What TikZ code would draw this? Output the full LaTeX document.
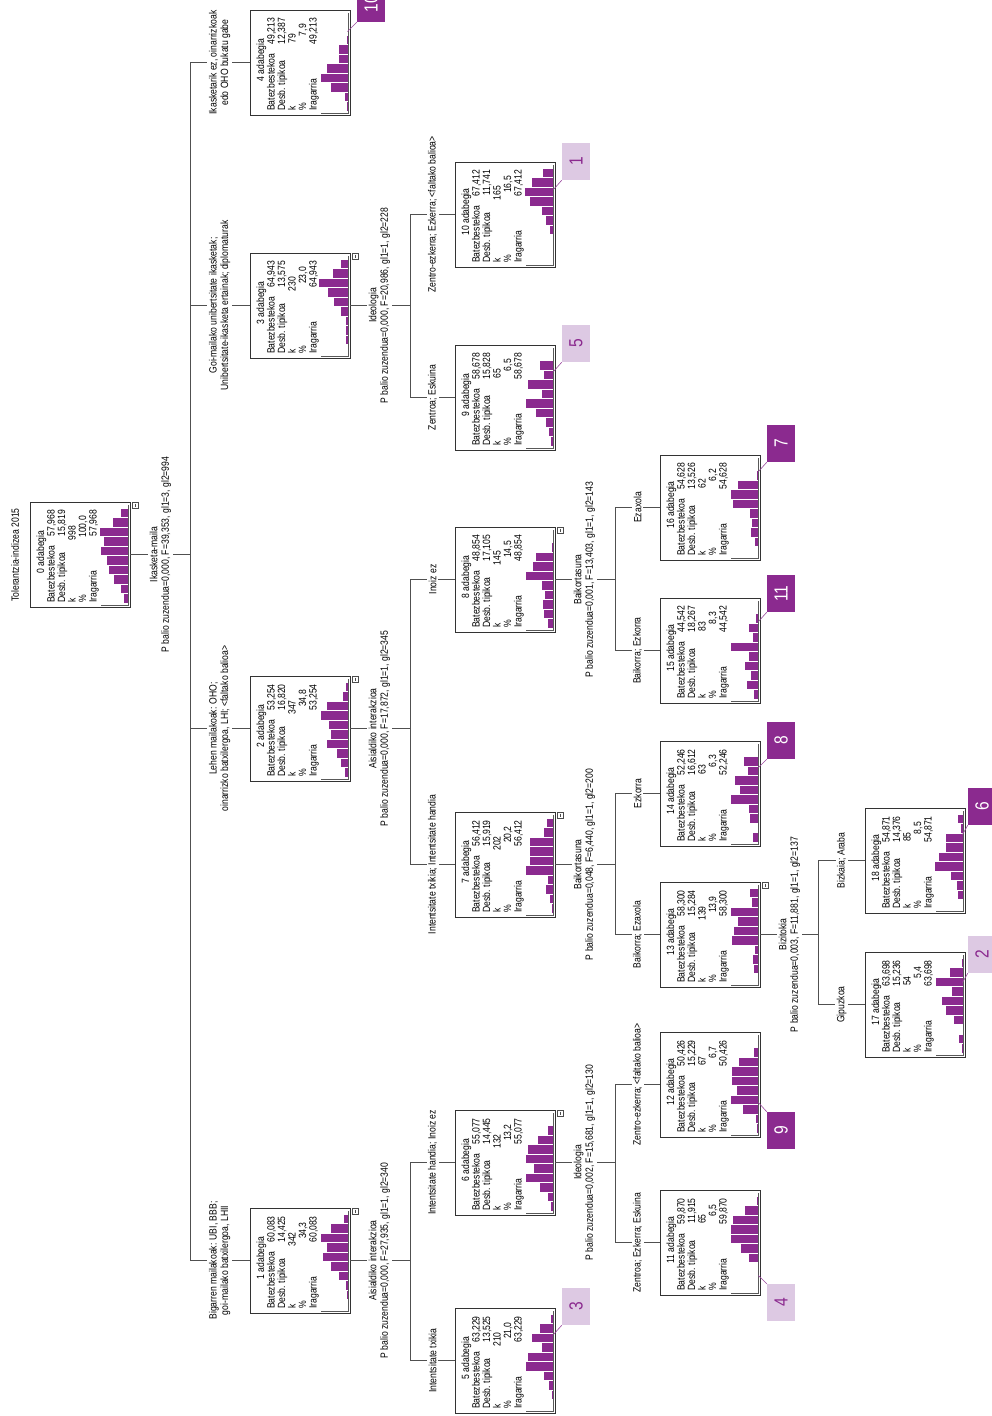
\documentclass[tikz,border=0pt]{standalone}
\usepackage{fontspec}
\setmainfont{Liberation Sans}
\newfontfamily\cf[FakeStretch=0.82]{Liberation Sans}
\usetikzlibrary{calc}
\definecolor{pur}{RGB}{139,42,143}
\definecolor{lav}{RGB}{221,201,227}
\definecolor{ln}{RGB}{80,80,80}
\tikzset{
  box/.style={draw=black!80, line width=0.9pt, minimum width=100pt, minimum height=105pt, inner sep=0pt},
  txt/.style={rotate=90, inner sep=0pt, font=\cf\fontsize{10.5}{11}\selectfont, text=black},
  lbl/.style={rotate=90, inner sep=1.5pt, fill=white, align=center, font=\cf\fontsize{10.5}{11.5}\selectfont, text=black},
  edge/.style={draw=ln, line width=1pt},
  bar/.style={fill=pur, draw=white, line width=0.5pt},
  axisln/.style={draw=black!65, line width=0.8pt},
  labdark/.style={fill=pur, text=white, minimum width=28pt, minimum height=37pt, inner sep=0pt, font=\cf\fontsize{19}{19}\selectfont},
  lablight/.style={fill=lav, text=pur, minimum width=28pt, minimum height=37pt, inner sep=0pt, font=\cf\fontsize{19}{19}\selectfont},
  labline/.style={draw=pur!85, line width=0.6pt},
}
\newcommand{\tnode}[9]{%
  \node[box] (#1) at ({#2+50},{#3+52.5}) {};
  \node[txt,anchor=base] at ({#2+14},{#3+50}) {#4 adabegia};
  \node[txt,anchor=base west] at ({#2+24.5},{#3+101}) {Batezbestekoa};
  \node[txt,anchor=base east] at ({#2+24.5},{#3+8}) {#5};
  \node[txt,anchor=base west] at ({#2+35},{#3+101}) {Desb. tipikoa};
  \node[txt,anchor=base east] at ({#2+35},{#3+8}) {#6};
  \node[txt,anchor=base west] at ({#2+45.5},{#3+101}) {k};
  \node[txt,anchor=base east] at ({#2+45.5},{#3+24}) {#7};
  \node[txt,anchor=base west] at ({#2+56},{#3+101}) {\%};
  \node[txt,anchor=base east] at ({#2+56},{#3+14}) {#8};
  \node[txt,anchor=base west] at ({#2+66.5},{#3+101}) {Iragarria};
  \node[txt,anchor=base east] at ({#2+66.5},{#3+8}) {#5};
  \foreach \len [count=\i from 0] in {#9} {%
    \ifnum\len>0 \draw[bar] ({#2+98-\len},{#3+6+9.5*\i}) rectangle ({#2+98},{#3+15.5+9.5*\i});\fi}
  \draw[axisln] ({#2+98},{#3+3}) -- ({#2+98},{#3+103}) -- ({#2+71},{#3+103});
}
\newcommand{\minusbox}[1]{%
  \draw[black!70, line width=0.6pt] ($(#1.north east)+(1.5,0.5)$) rectangle ($(#1.north east)+(8,7)$);
  \draw[black!70, line width=0.6pt] ($(#1.north east)+(4.75,2)$) -- ($(#1.north east)+(4.75,5.5)$);
}
\begin{document}
\begin{tikzpicture}[x=1pt,y=-1pt]
\useasboundingbox (0,0) rectangle (992,1416);
% ---------- nodes ----------
\tnode{n0}{30}{502}{0}{57,968}{15,819}{998}{100,0}{8,16,29,25,28,22,20,15,8,5}
\tnode{n4}{250}{10}{4}{49,213}{12,387}{79}{7,9}{0,0,2,10,10,22,28,18,4,2}
\tnode{n3}{250}{253}{3}{64,943}{13,575}{230}{23,0}{8,16,30,21,15,8,3,3,3,0}
\tnode{n2}{250}{676}{2}{53,254}{16,820}{347}{34,8}{3,6,22,28,20,18,22,12,8,4}
\tnode{n1}{250}{1208}{1}{60,083}{14,425}{342}{34,3}{5,18,28,22,26,18,10,3,2,0}
\tnode{n10}{455}{162}{10}{67,412}{11,741}{165}{16,5}{11,22,29,24,12,8,4,0,0,0}
\tnode{n9}{455}{345}{9}{58,678}{15,828}{65}{6,5}{0,14,10,26,12,28,18,8,5,3}
\tnode{n8}{455}{527}{8}{48,854}{17,105}{145}{14,5}{0,2,18,21,28,12,9,11,10,6}
\tnode{n7}{455}{812}{7}{56,412}{15,919}{202}{20,2}{7,10,24,24,24,28,6,8,4,2}
\tnode{n6}{455}{1110}{6}{55,077}{14,445}{132}{13,2}{0,6,16,26,28,20,28,14,6,3}
\tnode{n5}{455}{1308}{5}{63,229}{13,525}{210}{21,0}{3,14,22,12,26,28,10,5,2,0}
\tnode{n16}{660}{455}{16}{54,628}{13,526}{62}{6,2}{0,2,21,28,26,9,7,8,4,0}
\tnode{n15}{660}{598}{15}{44,542}{18,267}{83}{8,3}{0,3,10,6,28,10,14,8,12,5}
\tnode{n14}{660}{741}{14}{52,246}{16,612}{63}{6,3}{0,15,11,24,19,28,10,9,0,6}
\tnode{n13}{660}{882}{13}{58,300}{15,284}{139}{13,9}{9,7,28,21,25,27,4,6,5,0}
\tnode{n12}{660}{1032}{12}{50,426}{15,229}{67}{6,7}{0,5,20,27,27,22,28,16,3,2}
\tnode{n11}{660}{1190}{11}{59,870}{11,915}{65}{6,5}{2,14,26,28,28,18,10,0,0,0}
\tnode{n18}{865}{808}{18}{54,871}{14,376}{85}{8,5}{6,3,18,18,25,29,13,7,6,0}
\tnode{n17}{865}{952}{17}{63,698}{15,236}{54}{5,4}{2,14,28,12,22,18,10,0,5,2}
\foreach \n in {n0,n1,n2,n3,n6,n7,n8,n13} {\minusbox{\n}}
% ---------- title ----------
\node[txt,anchor=base] (title) at (19,555) {Tolerantzia-indizea 2015};
% ---------- connectors ----------
\draw[edge] (n0.east) -- ++(60,0) coordinate (b0);
\draw[edge] (b0 |- n4.west) -- (b0 |- n1.west);
\foreach \c in {n4,n3,n2,n1} {\draw[edge] (b0 |- \c.west) -- (\c.west);}
\draw[edge] (n3.east) -- ++(60,0) coordinate (b3);
\draw[edge] (b3 |- n10.west) -- (b3 |- n9.west);
\foreach \c in {n10,n9} {\draw[edge] (b3 |- \c.west) -- (\c.west);}
\draw[edge] (n2.east) -- ++(60,0) coordinate (b2);
\draw[edge] (b2 |- n8.west) -- (b2 |- n7.west);
\foreach \c in {n8,n7} {\draw[edge] (b2 |- \c.west) -- (\c.west);}
\draw[edge] (n1.east) -- ++(60,0) coordinate (b1);
\draw[edge] (b1 |- n6.west) -- (b1 |- n5.west);
\foreach \c in {n6,n5} {\draw[edge] (b1 |- \c.west) -- (\c.west);}
\draw[edge] (n8.east) -- ++(60,0) coordinate (b8);
\draw[edge] (b8 |- n16.west) -- (b8 |- n15.west);
\foreach \c in {n16,n15} {\draw[edge] (b8 |- \c.west) -- (\c.west);}
\draw[edge] (n7.east) -- ++(60,0) coordinate (b7);
\draw[edge] (b7 |- n14.west) -- (b7 |- n13.west);
\foreach \c in {n14,n13} {\draw[edge] (b7 |- \c.west) -- (\c.west);}
\draw[edge] (n6.east) -- ++(60,0) coordinate (b6);
\draw[edge] (b6 |- n12.west) -- (b6 |- n11.west);
\foreach \c in {n12,n11} {\draw[edge] (b6 |- \c.west) -- (\c.west);}
\draw[edge] (n13.east) -- ++(58,0) coordinate (b13);
\draw[edge] (b13 |- n18.west) -- (b13 |- n17.west);
\foreach \c in {n18,n17} {\draw[edge] (b13 |- \c.west) -- (\c.west);}
% ---------- split labels ----------
\node[lbl] (s0) at ($(n0.east)+(30,0)$) {Ikasketa-maila\\P balio zuzendua=0,000, F=39,353, gl1=3, gl2=994};
\node[lbl] (s3) at ($(n3.east)+(29,0)$) {Ideologia\\P balio zuzendua=0,000, F=20,986, gl1=1, gl2=228};
\node[lbl] (s2) at ($(n2.east)+(29,0)$) {Aisialdiko interakzioa\\P balio zuzendua=0,000, F=17,872, gl1=1, gl2=345};
\node[lbl] (s1) at ($(n1.east)+(29,0)$) {Aisialdiko interakzioa\\P balio zuzendua=0,000, F=27,935, gl1=1, gl2=340};
\node[lbl] (s8) at ($(n8.east)+(29,0)$) {Baikortasuna\\P balio zuzendua=0,001, F=13,403, gl1=1, gl2=143};
\node[lbl] (s7) at ($(n7.east)+(29,0)$) {Baikortasuna\\P balio zuzendua=0,048, F=6,440, gl1=1, gl2=200};
\node[lbl] (s6) at ($(n6.east)+(29,0)$) {Ideologia\\P balio zuzendua=0,002, F=15,681, gl1=1, gl2=130};
\node[lbl] (s13) at ($(n13.east)+(29,0)$) {Bizitokia\\P balio zuzendua=0,003, F=11,881, gl1=1, gl2=137};
% ---------- edge labels ----------
\node[lbl] (e4) at ($(n4.west)+(-30,0)$) {Ikasketarik ez, oinarrizkoak\\edo OHO bukatu gabe};
\node[lbl] (e3) at ($(n3.west)+(-30,0)$) {Goi-mailako unibertsitate ikasketak;\\Unibertsitate-ikasketa ertainak; diplomaturak};
\node[lbl] (e2) at ($(n2.west)+(-30,0)$) {Lehen mailakoak: OHO;\\oinarrizko batxilergoa, LHI; <faltako balioa>};
\node[lbl] (e1) at ($(n1.west)+(-30,0)$) {Bigarren mailakoak: UBI, BBB;\\goi-mailako batxilergoa, LHII};
\node[lbl] (e10) at ($(n10.west)+(-22,0)$) {Zentro-ezkerra; Ezkerra; <faltako balioa>};
\node[lbl] (e9) at ($(n9.west)+(-22,0)$) {Zentroa; Eskuina};
\node[lbl] (e8) at ($(n8.west)+(-22,0)$) {Inoiz ez};
\node[lbl] (e7) at ($(n7.west)+(-22,0)$) {Intentsitate txikia; Intentsitate handia};
\node[lbl] (e6) at ($(n6.west)+(-22,0)$) {Intentsitate handia; Inoiz ez};
\node[lbl] (e5) at ($(n5.west)+(-22,0)$) {Intentsitate txikia};
\node[lbl] (e16) at ($(n16.west)+(-22,0)$) {Ezaxola};
\node[lbl] (e15) at ($(n15.west)+(-22,0)$) {Baikorra; Ezkorra};
\node[lbl] (e14) at ($(n14.west)+(-22,0)$) {Ezkorra};
\node[lbl] (e13) at ($(n13.west)+(-22,0)$) {Baikorra; Ezaxola};
\node[lbl] (e12) at ($(n12.west)+(-22,0)$) {Zentro-ezkerra; <faltako balioa>};
\node[lbl] (e11) at ($(n11.west)+(-22,0)$) {Zentroa; Ezkerra; Eskuina};
\node[lbl] (e18) at ($(n18.west)+(-23,0)$) {Bizkaia; Araba};
\node[lbl] (e17) at ($(n17.west)+(-23,0)$) {Gipuzkoa};
% ---------- leaf numbers ----------
\node[labdark] (L10) at (371,3.5) {\rotatebox{90}{10}};
\node[lablight] (L1) at (576,161.5) {\rotatebox{90}{1}};
\node[lablight] (L5) at (576,343.5) {\rotatebox{90}{5}};
\node[labdark] (L7) at (781,443.5) {\rotatebox{90}{7}};
\node[labdark] (L11) at (781,593.5) {\rotatebox{90}{11}};
\node[labdark] (L8) at (781,740.5) {\rotatebox{90}{8}};
\node[labdark] (L9) at (781,1130.5) {\rotatebox{90}{9}};
\node[lablight] (L4) at (781,1302.5) {\rotatebox{90}{4}};
\node[lablight] (L3) at (576,1306.5) {\rotatebox{90}{3}};
\node[labdark] (L6) at (982,806.5) {\rotatebox{90}{6}};
\node[lablight] (L2) at (982,954.5) {\rotatebox{90}{2}};
\draw[labline] ($(n4.north east)+(-3,22)$) -- (L10.south west);
\draw[labline] ($(n10.north east)+(-2,28)$) -- (L1.south west);
\draw[labline] ($(n9.north east)+(-2,27)$) -- (L5.south west);
\draw[labline] ($(n16.north east)+(-2,17)$) -- (L7.south west);
\draw[labline] ($(n15.north east)+(-2,24)$) -- (L11.south west);
\draw[labline] ($(n14.north east)+(-2,27)$) -- (L8.south west);
\draw[labline] ($(n12.north east)+(-2,71)$) -- (L9.north west);
\draw[labline] ($(n11.north east)+(-2,86)$) -- (L4.north west);
\draw[labline] ($(n5.north east)+(-2,27)$) -- (L3.south west);
\draw[labline] ($(n18.north east)+(-3,27)$) -- (L6.south west);
\draw[labline] ($(n17.north east)+(-3,31)$) -- (L2.south west);
\end{tikzpicture}
\end{document}
